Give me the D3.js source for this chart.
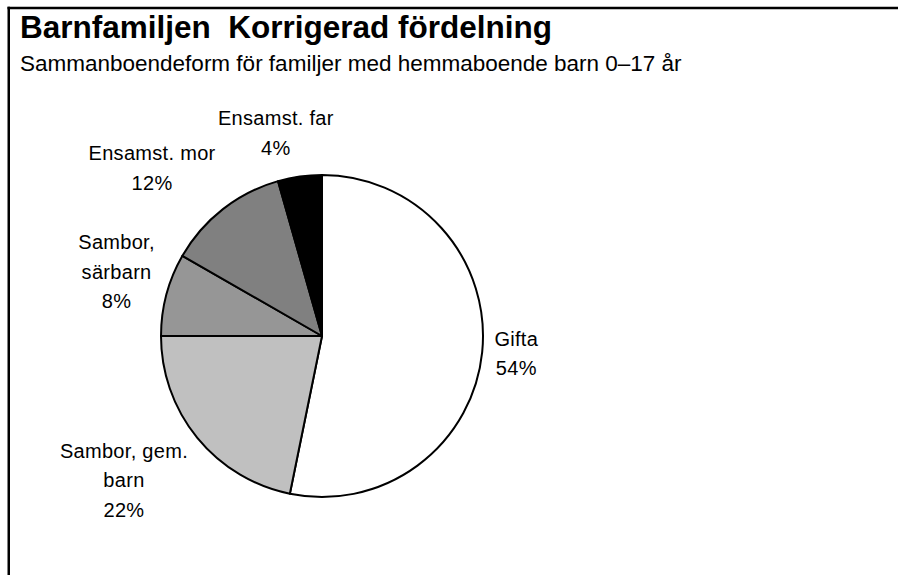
<!DOCTYPE html>
<html>
<head>
<meta charset="utf-8">
<script src="https://cdn.jsdelivr.net/npm/d3@7/dist/d3.min.js"></script>
<style>
  html, body { margin: 0; padding: 0; background: #fff; overflow: hidden; }
  svg { display: block; font-family: "Liberation Sans", Arial, Helvetica, sans-serif; }
</style>
</head>
<body>
<svg id="chart"></svg>
<script>
// Slices, clockwise from 12 o'clock
const categories = ["Gifta", "Sambor, gem. barn", "Sambor, särbarn", "Ensamst. mor", "Ensamst. far"];
// label lines as they are wrapped in the picture
const labelLines = [["Gifta"], ["Sambor, gem.", "barn"], ["Sambor,", "särbarn"], ["Ensamst. mor"], ["Ensamst. far"]];
// slice sizes
const shares = [53.2, 21.8, 8.3, 12.3, 4.4];
// percentages as printed on the labels
const pctLabels = ["54%", "22%", "8%", "12%", "4%"];
const fills = ["#ffffff", "#c0c0c0", "#969696", "#808080", "#000000"];

const W = 898, H = 575;
const cx = 322, cy = 336, radius = 161;
const fontSize = 20, lineH = 29.5, ascent = 16, descent = 10, gap = 12;

const svg = d3.select("#chart").attr("width", W).attr("height", H);

// outer frame: only the top and left edges fall inside the picture
svg.append("line")
  .attr("x1", 7.5).attr("x2", W).attr("y1", 8).attr("y2", 8)
  .attr("stroke", "#000").attr("stroke-width", 2.5);
svg.append("line")
  .attr("x1", 8.75).attr("x2", 8.75).attr("y1", 6.75).attr("y2", H)
  .attr("stroke", "#000").attr("stroke-width", 2.5);

svg.append("text")
  .attr("x", 20).attr("y", 38)
  .style("font-size", "31.5px").style("font-weight", "bold")
  .style("white-space", "pre")
  .text("Barnfamiljen  Korrigerad fördelning");

svg.append("text")
  .attr("x", 20).attr("y", 71)
  .style("font-size", "22.5px")
  .text("Sammanboendeform för familjer med hemmaboende barn 0–17 år");

const data = categories.map((c, i) => ({
  name: c, value: shares[i], lines: labelLines[i].concat([pctLabels[i]]), fill: fills[i]
}));

const pie = d3.pie().sort(null).value(d => d.value);
const arc = d3.arc().innerRadius(0).outerRadius(radius);
const arcs = pie(data);

const g = svg.append("g").attr("transform", `translate(${cx},${cy})`);

g.selectAll("path.slice")
  .data(arcs)
  .enter()
  .append("path")
  .attr("class", "slice")
  .attr("d", arc)
  .attr("fill", d => d.data.fill)
  .attr("stroke", "#000")
  .attr("stroke-width", 2)
  .attr("stroke-linejoin", "round");

// labels: anchor just outside the rim on the mid-angle, text block hangs away from the pie
const clamp = v => Math.max(-1, Math.min(1, v));
const labels = g.selectAll("g.label")
  .data(arcs)
  .enter()
  .append("g")
  .attr("class", "label");

labels.each(function(d) {
  const grp = d3.select(this);
  const t = grp.append("text")
    .attr("text-anchor", "middle")
    .style("font-size", fontSize + "px")
    .style("letter-spacing", "0.3px");
  d.data.lines.forEach((ln, i) => {
    t.append("tspan").attr("x", 0).attr("y", i * lineH).text(ln);
  });
  const w = t.node().getBBox().width;
  const h = (d.data.lines.length - 1) * lineH + ascent + descent;
  const mid = (d.startAngle + d.endAngle) / 2;
  const dx = Math.sin(mid), dy = -Math.cos(mid);
  const ax = dx * (radius + gap), ay = dy * (radius + gap);
  const bx = ax + clamp(2.8 * dx) * w / 2;
  const by = ay + clamp(1.45 * dy) * h / 2;
  grp.attr("transform", `translate(${bx},${by - h / 2 + ascent})`);
});
</script>
</body>
</html>
